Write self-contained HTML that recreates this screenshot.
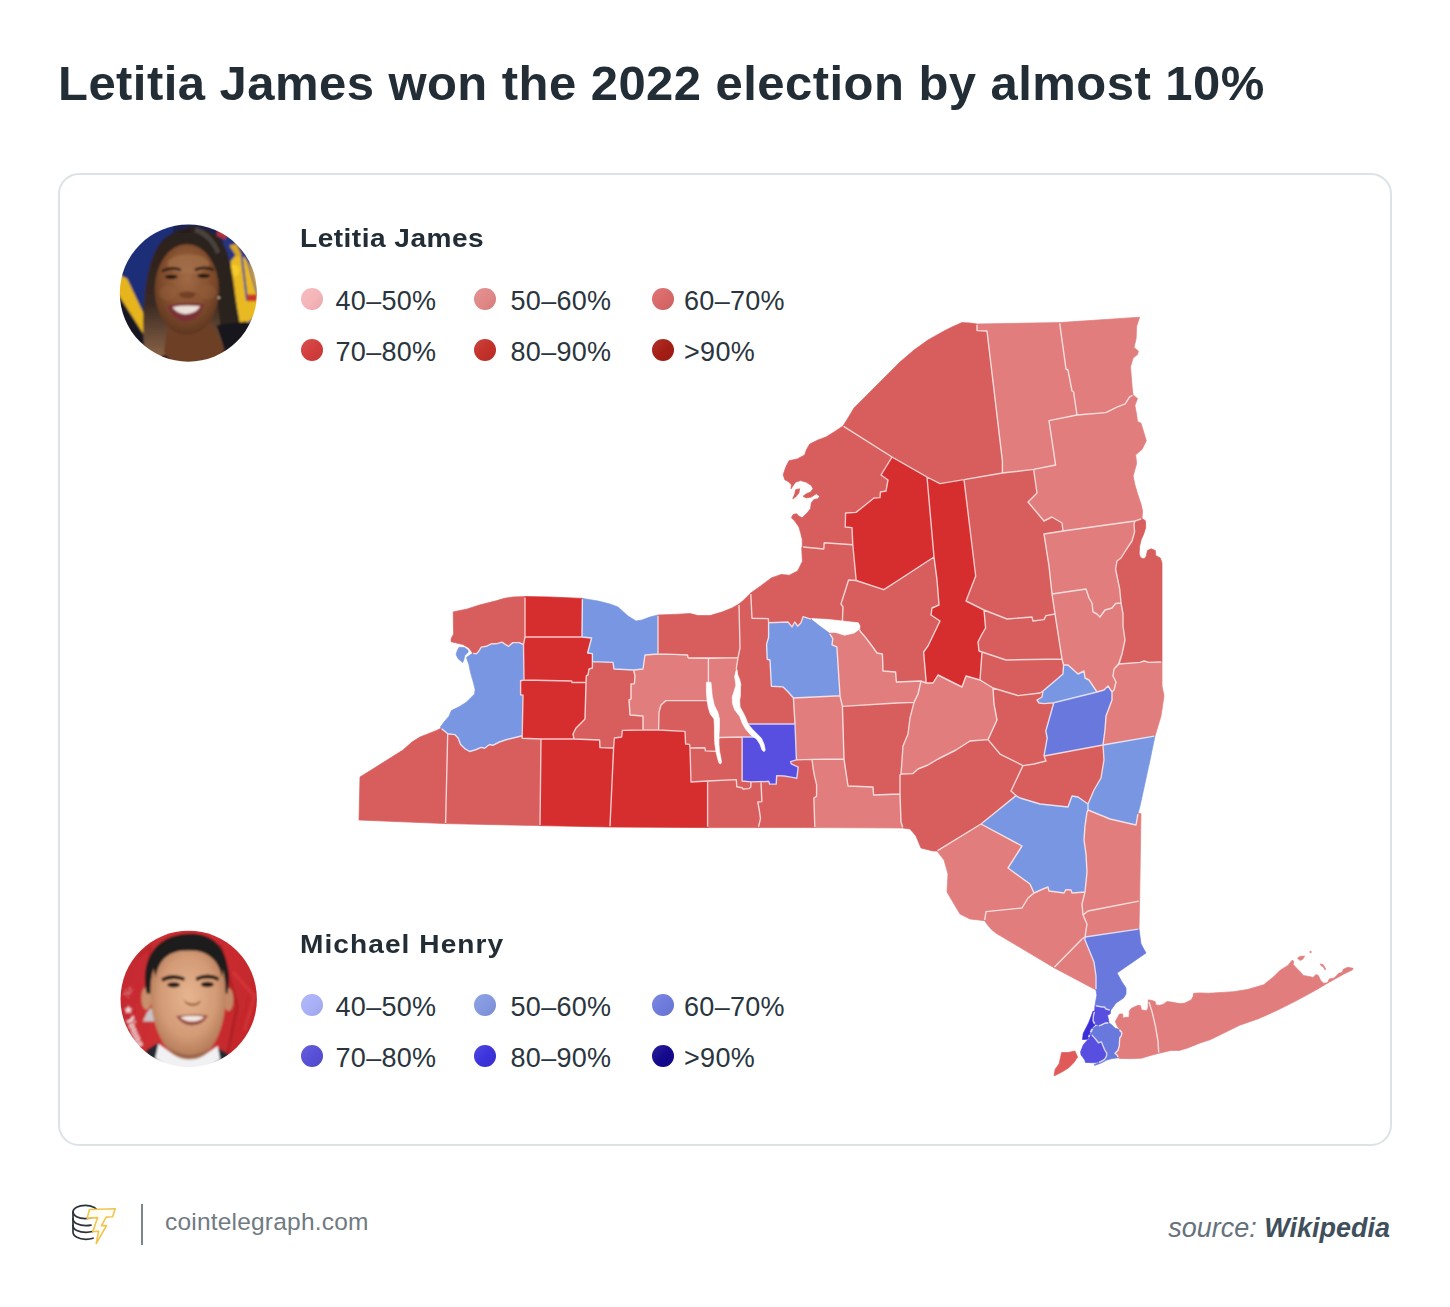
<!DOCTYPE html>
<html><head><meta charset="utf-8"><title>Letitia James won the 2022 election by almost 10%</title>
<style>
html,body{margin:0;padding:0;background:#fff;}
body{width:1450px;height:1307px;position:relative;overflow:hidden;font-family:"Liberation Sans",sans-serif;color:#222d36;}
.title{position:absolute;left:58.3px;top:51px;font-size:47.5px;font-weight:700;letter-spacing:0.45px;white-space:nowrap;line-height:66px;color:#222d36;transform-origin:0 0;transform:scaleX(1.031);}
.card{position:absolute;left:58px;top:173px;width:1330px;height:969px;border:2px solid #dce2e6;border-radius:21px;box-sizing:content-box;}
.h{position:absolute;font-size:26.5px;font-weight:700;white-space:nowrap;line-height:30px;color:#222d36;letter-spacing:0.1px}
.lg{position:absolute;font-size:27px;white-space:nowrap;line-height:30px;color:#2a353e;letter-spacing:0.3px}
.dot{position:absolute;width:22px;height:22px;border-radius:50%;}
svg.map{position:absolute;left:0;top:0;}
.c{stroke:#fff;stroke-opacity:0.74;stroke-width:1.4;stroke-linejoin:round;}
.foot{position:absolute;left:165px;top:1207px;font-size:24.5px;line-height:30px;color:#707a82;letter-spacing:0.2px;white-space:nowrap}
.sep{position:absolute;left:141px;top:1204px;width:2px;height:41px;background:#7b858c;}
.src{position:absolute;right:60px;top:1212px;font-size:27px;line-height:32px;font-style:italic;color:#65727c;white-space:nowrap}
.src b{font-weight:700;color:#3f4f5c}
</style></head><body>
<div class="title">Letitia James won the 2022 election by almost 10%</div>
<div class="card"></div>
<svg class="map" width="1450" height="1307" viewBox="0 0 1450 1307">
<polygon fill="#d85d5d" stroke="#d85d5d" stroke-width="0.7" stroke-linejoin="round" points="359.0,820.0 360.0,777.0 376.0,767.0 403.0,750.0 412.0,742.0 420.0,737.0 428.3,733.7 436.6,730.4 441.1,728.3 444.8,731.2 447.7,733.7 445.6,823.6"/>
<polygon fill="#d85d5d" stroke="#d85d5d" stroke-width="0.7" stroke-linejoin="round" points="447.7,733.7 454.8,734.6 458.1,737.9 460.6,744.5 464.7,748.6 469.7,751.5 476.3,749.5 481.2,747.4 484.6,748.2 489.5,744.5 492.8,745.3 499.4,742.0 506.9,739.5 515.2,737.5 522.2,735.8 522.2,738.2 541.0,739.0 540.0,825.6 445.6,823.6"/>
<polygon fill="#7896e1" stroke="#7896e1" stroke-width="0.7" stroke-linejoin="round" points="441.1,728.3 440.3,727.1 444.0,722.1 449.0,716.3 451.4,710.6 459.7,706.4 466.3,702.3 474.6,694.0 475.1,689.3 473.0,681.0 470.6,672.8 468.9,664.5 466.9,659.0 466.6,657.4 468.4,656.0 472.6,653.3 476.3,653.7 478.8,651.2 481.3,647.1 486.3,646.3 491.2,643.8 496.2,643.8 502.0,642.1 504.5,643.8 508.6,646.3 512.8,642.6 519.4,642.6 523.5,644.6 524.0,680.0 520.6,680.8 520.6,694.8 523.0,695.2 522.2,735.8 515.2,737.5 506.9,739.5 499.4,742.0 492.8,745.3 489.5,744.5 484.6,748.2 481.2,747.4 476.3,749.5 469.7,751.5 464.7,748.6 460.6,744.5 458.1,737.9 454.8,734.6 447.7,733.7 444.8,731.2"/>
<polygon fill="#7896e1" stroke="#7896e1" stroke-width="0.7" stroke-linejoin="round" points="459.0,647.3 464.3,647.5 467.8,649.9 468.3,652.0 464.6,655.8 463.8,660.0 462.6,662.6 458.1,658.7 456.1,654.6 457.3,650.4"/>
<polygon fill="#d85d5d" stroke="#d85d5d" stroke-width="0.7" stroke-linejoin="round" points="453.2,611.9 467.2,609.0 479.7,604.9 496.2,600.8 504.5,598.3 512.8,597.0 525.0,596.6 525.0,637.0 523.5,644.6 519.4,642.6 512.8,642.6 508.6,646.3 504.5,643.8 502.0,642.1 496.2,643.8 491.2,643.8 486.3,646.3 481.3,647.1 478.8,651.2 476.3,653.7 472.6,653.3 471.4,651.2 468.9,647.9 463.1,644.6 451.1,641.7 451.1,638.8 453.6,633.9"/>
<polygon fill="#d62e2f" stroke="#d62e2f" stroke-width="0.7" stroke-linejoin="round" points="525.0,596.6 550.0,597.0 582.4,598.4 582.0,637.0 525.0,637.0"/>
<polygon fill="#d62e2f" stroke="#d62e2f" stroke-width="0.7" stroke-linejoin="round" points="525.0,637.0 582.0,637.0 591.6,638.0 587.6,653.0 592.4,653.6 592.4,668.0 589.0,669.0 588.0,675.0 586.4,675.6 586.0,682.5 572.0,682.5 571.6,681.0 524.0,680.0 523.5,644.6"/>
<polygon fill="#d62e2f" stroke="#d62e2f" stroke-width="0.7" stroke-linejoin="round" points="520.6,680.8 524.0,680.0 571.6,681.0 572.0,682.5 586.0,682.5 585.0,719.0 579.0,725.0 576.0,728.0 573.0,734.0 574.0,739.0 541.0,739.0 522.2,738.2 522.2,735.8 523.0,695.2 520.6,694.8"/>
<polygon fill="#d62e2f" stroke="#d62e2f" stroke-width="0.7" stroke-linejoin="round" points="541.0,739.0 574.0,739.0 599.6,740.0 600.0,747.6 613.6,748.0 610.0,827.0 540.0,825.6"/>
<polygon fill="#d85d5d" stroke="#d85d5d" stroke-width="0.7" stroke-linejoin="round" points="592.4,661.6 613.0,662.4 614.0,669.0 633.6,670.0 635.0,676.0 634.4,683.6 631.0,684.0 631.0,699.0 629.0,700.0 630.0,715.0 643.0,716.0 643.0,730.0 622.4,730.4 621.6,737.0 614.4,738.0 613.6,748.0 600.0,747.6 599.6,740.0 574.0,739.0 573.0,734.0 576.0,728.0 579.0,725.0 585.0,719.0 586.0,682.5 586.4,675.6 588.0,675.0 589.0,669.0 592.4,668.0"/>
<polygon fill="#7896e1" stroke="#7896e1" stroke-width="0.7" stroke-linejoin="round" points="582.4,598.4 598.0,601.0 610.0,604.0 618.0,607.0 628.0,616.0 636.0,621.0 642.0,620.0 650.0,617.0 658.0,615.0 658.0,654.0 645.0,655.0 643.0,669.0 633.6,670.0 614.0,669.0 613.0,662.4 592.4,661.6 592.4,653.6 587.6,653.0 591.6,638.0 582.0,637.0"/>
<polygon fill="#d85d5d" stroke="#d85d5d" stroke-width="0.7" stroke-linejoin="round" points="658.0,615.0 674.0,614.4 690.0,613.6 698.0,615.6 710.0,615.6 722.0,612.0 732.0,608.0 739.0,604.0 740.0,648.0 738.0,657.6 688.0,658.0 687.6,655.0 674.0,654.4 658.0,654.0"/>
<polygon fill="#e27d7d" stroke="#e27d7d" stroke-width="0.7" stroke-linejoin="round" points="645.0,655.0 658.0,654.0 674.0,654.4 687.6,655.0 688.0,658.0 708.4,658.4 708.4,682.0 707.0,692.0 708.0,701.0 706.0,700.6 666.0,700.6 661.0,705.0 659.0,712.0 658.6,730.0 643.0,730.0 643.0,716.0 630.0,715.0 629.0,700.0 631.0,699.0 631.0,684.0 634.4,683.6 635.0,676.0 633.6,670.0 643.0,669.0"/>
<polygon fill="#d85d5d" stroke="#d85d5d" stroke-width="0.7" stroke-linejoin="round" points="666.0,700.6 706.0,700.6 708.0,701.0 711.0,704.0 715.0,716.0 716.0,728.0 716.6,742.0 718.0,751.4 705.4,750.9 704.9,747.8 690.0,748.0 689.6,744.4 685.6,744.0 685.0,731.4 658.6,730.0 659.0,712.0 661.0,705.0"/>
<polygon fill="#e27d7d" stroke="#e27d7d" stroke-width="0.7" stroke-linejoin="round" points="708.4,658.4 738.0,657.6 736.4,668.0 737.0,680.0 736.0,692.0 735.0,700.0 738.0,710.0 744.0,720.0 745.9,724.0 754.7,737.0 742.1,737.0 719.3,737.5 716.6,742.0 716.0,728.0 715.0,716.0 711.0,704.0 708.0,701.0 707.0,692.0 708.4,682.0"/>
<polygon fill="#d85d5d" stroke="#d85d5d" stroke-width="0.7" stroke-linejoin="round" points="739.0,604.0 743.8,600.0 750.7,593.1 752.0,618.2 768.3,618.6 768.6,622.8 768.6,637.2 766.6,644.1 767.2,659.3 770.0,660.0 771.4,686.2 783.1,686.9 788.0,691.7 793.4,698.0 795.0,724.0 770.8,724.0 745.9,724.0 744.0,720.0 738.0,710.0 735.0,700.0 736.0,692.0 737.0,680.0 736.4,668.0 738.0,657.6 740.0,648.0"/>
<polygon fill="#7896e1" stroke="#7896e1" stroke-width="0.7" stroke-linejoin="round" points="768.6,622.8 788.0,622.0 792.0,626.9 794.8,622.0 797.6,626.2 801.0,622.8 803.1,616.6 811.4,619.3 819.7,626.0 829.3,633.1 832.8,638.6 832.0,644.8 836.9,646.9 840.0,695.8 793.4,698.0 788.0,691.7 783.1,686.9 771.4,686.2 770.0,660.0 767.2,659.3 766.6,644.1 768.6,637.2"/>
<polygon fill="#d85d5d" stroke="#d85d5d" stroke-width="0.7" stroke-linejoin="round" points="750.7,593.1 760.3,586.2 771.4,577.9 781.0,574.5 789.3,575.2 797.6,571.0 802.4,561.4 801.7,547.6 802.4,546.9 823.8,549.0 824.2,542.8 852.8,544.8 856.2,580.5 848.6,580.0 841.0,604.0 843.0,607.0 842.4,622.0 832.0,620.0 812.8,618.6 811.4,619.3 803.1,616.6 801.0,622.8 797.6,626.2 794.8,622.0 792.0,626.9 788.0,622.0 768.6,622.8 768.3,618.6 752.0,618.2"/>
<polygon fill="#d85d5d" stroke="#d85d5d" stroke-width="0.7" stroke-linejoin="round" points="843.0,426.0 834.0,432.0 826.0,437.0 817.9,440.0 809.7,444.1 806.3,449.9 804.7,454.9 797.2,459.0 789.0,460.7 785.7,467.3 783.2,474.8 784.8,479.7 788.1,481.4 791.4,484.7 791.0,488.8 792.7,486.3 795.6,482.2 800.6,480.6 806.3,482.2 811.3,485.5 813.0,488.8 810.5,492.1 806.3,493.8 803.0,496.3 806.3,497.9 811.3,497.1 816.3,493.8 819.6,496.3 817.9,498.8 813.8,499.6 811.3,502.9 810.5,508.7 807.2,512.8 802.2,517.8 798.9,516.1 796.4,513.7 793.1,514.5 791.4,517.8 794.8,521.1 798.9,526.9 800.6,532.7 802.2,539.3 802.4,546.9 823.8,549.0 824.2,542.8 852.8,544.8 852.0,527.6 845.2,527.0 845.6,513.0 856.0,512.4 874.0,498.0 880.0,497.6 880.4,492.0 886.0,491.0 888.0,480.0 881.0,475.0 892.0,457.0"/>
<polygon fill="#d62e2f" stroke="#d62e2f" stroke-width="0.7" stroke-linejoin="round" points="892.0,457.0 927.0,477.0 934.0,557.0 898.0,580.5 883.8,589.7 856.2,580.5 852.8,544.8 852.0,527.6 845.2,527.0 845.6,513.0 856.0,512.4 874.0,498.0 880.0,497.6 880.4,492.0 886.0,491.0 888.0,480.0 881.0,475.0"/>
<polygon fill="#d85d5d" stroke="#d85d5d" stroke-width="0.7" stroke-linejoin="round" points="977.0,324.0 970.0,323.0 962.0,322.6 952.0,327.0 944.0,331.0 928.0,340.0 914.0,350.0 900.0,362.0 884.0,378.0 868.0,394.0 854.0,408.0 848.0,418.0 843.0,426.0 892.0,457.0 927.0,477.0 940.0,483.6 964.0,479.6 1002.4,473.0 1002.4,461.0 987.0,331.0 977.0,330.6"/>
<polygon fill="#e27d7d" stroke="#e27d7d" stroke-width="0.7" stroke-linejoin="round" points="977.0,324.0 1059.6,322.6 1066.0,369.0 1068.0,370.0 1072.0,391.0 1073.6,392.0 1077.0,415.0 1049.0,420.6 1055.6,465.0 1033.6,469.4 1002.4,473.0 1002.4,461.0 987.0,331.0 977.0,330.6"/>
<polygon fill="#e27d7d" stroke="#e27d7d" stroke-width="0.7" stroke-linejoin="round" points="1059.6,322.6 1139.6,317.2 1136.6,326.4 1136.1,338.7 1134.0,347.5 1138.4,351.0 1137.5,354.5 1133.1,358.1 1130.5,366.9 1131.4,377.4 1132.2,388.0 1133.1,395.0 1129.6,396.8 1125.2,403.8 1116.4,407.3 1105.8,412.6 1077.0,415.0 1073.6,392.0 1072.0,391.0 1068.0,370.0 1066.0,369.0"/>
<polygon fill="#e27d7d" stroke="#e27d7d" stroke-width="0.7" stroke-linejoin="round" points="1049.0,420.6 1077.0,415.0 1105.8,412.6 1116.4,407.3 1125.2,403.8 1129.6,396.8 1133.1,395.0 1137.5,398.5 1134.9,405.6 1136.6,414.4 1137.5,421.4 1141.0,423.2 1143.7,432.0 1146.3,440.8 1141.9,449.6 1135.7,454.8 1136.6,463.6 1133.1,476.0 1134.9,484.8 1137.5,493.6 1141.0,504.1 1142.6,511.0 1142.0,518.6 1135.0,521.0 1063.0,531.0 1062.0,523.0 1052.0,517.0 1044.0,521.0 1028.0,502.0 1037.0,493.0 1033.6,469.4 1055.6,465.0"/>
<polygon fill="#d85d5d" stroke="#d85d5d" stroke-width="0.7" stroke-linejoin="round" points="964.0,479.6 1002.4,473.0 1033.6,469.4 1037.0,493.0 1028.0,502.0 1044.0,521.0 1052.0,517.0 1062.0,523.0 1063.0,531.0 1044.0,534.0 1049.0,566.0 1052.0,594.0 1055.0,614.0 1046.0,615.6 1044.0,619.6 1033.0,621.0 1032.0,617.0 1007.0,619.0 984.0,610.0 966.0,601.0 975.7,576.0"/>
<polygon fill="#d62e2f" stroke="#d62e2f" stroke-width="0.7" stroke-linejoin="round" points="927.0,477.0 940.0,483.6 964.0,479.6 975.7,576.0 966.0,601.0 984.0,610.0 985.6,628.0 982.0,634.0 978.0,642.0 979.0,651.0 982.0,652.0 980.0,680.0 966.0,676.0 962.0,687.0 938.0,675.0 933.0,683.0 926.0,683.0 926.0,680.0 923.6,652.0 928.0,646.0 940.0,621.0 931.0,615.0 932.0,608.0 939.0,605.0 937.0,580.0 934.0,557.0"/>
<polygon fill="#d85d5d" stroke="#d85d5d" stroke-width="0.7" stroke-linejoin="round" points="848.6,580.0 856.2,580.5 883.8,589.7 898.0,580.5 934.0,557.0 937.0,580.0 939.0,605.0 932.0,608.0 931.0,615.0 940.0,621.0 928.0,646.0 923.6,652.0 926.0,680.0 926.0,683.0 921.0,681.0 896.4,682.0 895.6,672.0 883.0,671.0 882.4,654.0 877.0,653.0 872.0,646.0 866.0,638.0 860.0,631.0 860.0,626.0 858.3,622.8 842.4,622.0 843.0,607.0 841.0,604.0"/>
<polygon fill="#e27d7d" stroke="#e27d7d" stroke-width="0.7" stroke-linejoin="round" points="829.3,633.1 837.6,633.1 844.5,635.2 854.1,633.1 859.7,629.0 860.0,631.0 866.0,638.0 872.0,646.0 877.0,653.0 882.4,654.0 883.0,671.0 895.6,672.0 896.4,682.0 921.0,681.0 918.0,694.0 914.0,702.4 897.0,703.0 842.4,706.4 840.0,695.8 836.9,646.9 832.0,644.8 832.8,638.6"/>
<polygon fill="#d85d5d" stroke="#d85d5d" stroke-width="0.7" stroke-linejoin="round" points="984.0,610.0 1007.0,619.0 1032.0,617.0 1033.0,621.0 1044.0,619.6 1046.0,615.6 1055.0,614.0 1062.0,659.0 1006.0,660.0 982.0,652.0 979.0,651.0 978.0,642.0 982.0,634.0 985.6,628.0"/>
<polygon fill="#d85d5d" stroke="#d85d5d" stroke-width="0.7" stroke-linejoin="round" points="982.0,652.0 1006.0,660.0 1062.0,659.0 1063.6,665.0 1063.0,674.0 1056.0,680.0 1043.0,691.0 1040.0,693.0 1018.0,695.6 993.0,688.0 980.0,680.0"/>
<polygon fill="#7896e1" stroke="#7896e1" stroke-width="0.7" stroke-linejoin="round" points="1063.6,665.0 1068.0,665.0 1078.0,674.0 1084.0,671.0 1085.0,678.0 1089.0,680.0 1097.0,692.0 1053.8,702.7 1044.0,703.6 1039.0,703.0 1037.0,700.0 1042.0,697.0 1043.0,691.0 1056.0,680.0 1063.0,674.0"/>
<polygon fill="#d85d5d" stroke="#d85d5d" stroke-width="0.7" stroke-linejoin="round" points="993.0,688.0 1018.0,695.6 1040.0,693.0 1043.0,691.0 1042.0,697.0 1037.0,700.0 1039.0,703.0 1044.0,703.6 1053.8,702.7 1045.8,731.0 1047.2,738.0 1044.0,756.0 1046.0,761.0 1034.0,764.0 1023.0,765.6 1000.0,754.0 988.0,739.6 997.0,720.0 994.0,704.0"/>
<polygon fill="#6878dc" stroke="#6878dc" stroke-width="0.7" stroke-linejoin="round" points="1053.8,702.7 1097.0,692.0 1104.0,690.0 1108.0,686.0 1112.0,692.0 1112.0,700.0 1106.0,716.0 1105.0,730.0 1103.0,745.0 1044.0,756.0 1047.2,738.0 1045.8,731.0"/>
<polygon fill="#e27d7d" stroke="#e27d7d" stroke-width="0.7" stroke-linejoin="round" points="1052.0,594.0 1086.0,589.0 1089.0,598.0 1092.0,603.0 1093.0,612.0 1097.0,614.0 1100.0,617.0 1105.0,610.0 1112.0,608.0 1115.6,603.5 1121.0,603.0 1123.0,614.0 1123.0,626.0 1125.0,640.0 1122.0,654.0 1119.0,664.0 1114.0,669.0 1113.0,676.0 1116.0,682.0 1114.0,690.0 1112.0,692.0 1108.0,686.0 1104.0,690.0 1097.0,692.0 1089.0,680.0 1085.0,678.0 1084.0,671.0 1078.0,674.0 1068.0,665.0 1063.6,665.0 1062.0,659.0 1055.0,614.0"/>
<polygon fill="#e27d7d" stroke="#e27d7d" stroke-width="0.7" stroke-linejoin="round" points="1044.0,534.0 1063.0,531.0 1135.0,521.0 1134.0,524.0 1134.6,532.0 1132.0,541.0 1126.0,550.0 1121.0,558.0 1117.0,561.0 1115.6,569.0 1117.0,576.0 1119.7,589.0 1121.0,603.0 1115.6,603.5 1112.0,608.0 1105.0,610.0 1100.0,617.0 1097.0,614.0 1093.0,612.0 1092.0,603.0 1089.0,598.0 1086.0,589.0 1052.0,594.0 1049.0,566.0"/>
<polygon fill="#d85d5d" stroke="#d85d5d" stroke-width="0.7" stroke-linejoin="round" points="1135.0,521.0 1142.0,518.6 1145.4,520.7 1145.8,527.3 1143.7,534.0 1141.2,539.7 1139.6,546.3 1139.2,553.8 1140.3,557.2 1142.9,558.8 1145.2,558.2 1146.4,555.5 1147.4,550.5 1151.2,548.8 1155.3,550.5 1155.7,555.5 1160.3,558.0 1162.0,563.0 1162.0,662.0 1149.0,662.4 1144.0,661.0 1140.0,662.4 1118.5,664.0 1122.0,654.0 1125.0,640.0 1123.0,626.0 1123.0,614.0 1121.0,603.0 1119.7,589.0 1117.0,576.0 1115.6,569.0 1117.0,561.0 1121.0,558.0 1126.0,550.0 1132.0,541.0 1134.6,532.0 1134.0,524.0"/>
<polygon fill="#e27d7d" stroke="#e27d7d" stroke-width="0.7" stroke-linejoin="round" points="1118.5,664.0 1140.0,662.4 1144.0,661.0 1149.0,662.4 1162.0,662.0 1162.0,686.0 1164.0,696.0 1161.0,716.0 1155.0,736.0 1103.0,745.0 1105.0,730.0 1106.0,716.0 1112.0,700.0 1112.0,692.0 1114.0,690.0 1116.0,682.0 1113.0,676.0 1114.0,669.0"/>
<polygon fill="#7896e1" stroke="#7896e1" stroke-width="0.7" stroke-linejoin="round" points="1103.0,745.0 1155.0,736.0 1150.0,760.0 1140.0,806.0 1138.0,813.6 1136.0,825.0 1110.0,819.0 1088.0,810.0 1088.0,804.0 1094.0,790.0 1101.0,778.0 1104.0,760.0"/>
<polygon fill="#d85d5d" stroke="#d85d5d" stroke-width="0.7" stroke-linejoin="round" points="1044.0,756.0 1103.0,745.0 1104.0,760.0 1101.0,778.0 1094.0,790.0 1088.0,804.0 1078.0,797.0 1072.0,796.0 1068.0,807.0 1040.0,804.0 1020.0,798.0 1016.0,795.6 1011.0,791.0 1023.0,765.6 1034.0,764.0 1046.0,761.0"/>
<polygon fill="#7896e1" stroke="#7896e1" stroke-width="0.7" stroke-linejoin="round" points="981.0,824.0 1016.0,795.6 1020.0,798.0 1040.0,804.0 1068.0,807.0 1072.0,796.0 1078.0,797.0 1088.0,804.0 1088.0,810.0 1087.0,812.0 1085.0,826.0 1084.0,840.0 1086.0,854.0 1087.0,872.0 1085.0,892.0 1072.0,893.0 1071.0,890.0 1066.0,889.6 1064.0,893.0 1049.0,891.0 1048.0,887.0 1043.0,889.0 1034.0,893.0 1030.0,884.0 1008.0,868.0 1022.0,846.0"/>
<polygon fill="#d85d5d" stroke="#d85d5d" stroke-width="0.7" stroke-linejoin="round" points="901.0,774.0 913.0,773.6 918.0,769.0 928.0,765.0 938.0,759.0 948.0,754.0 956.0,750.0 970.0,741.0 988.0,739.6 1000.0,754.0 1023.0,765.6 1011.0,791.0 1016.0,795.6 981.0,824.0 937.0,851.0 933.0,851.0 921.0,848.0 916.0,836.0 910.0,829.0 903.0,828.0 901.0,822.0 900.0,794.0 900.0,775.0"/>
<polygon fill="#e27d7d" stroke="#e27d7d" stroke-width="0.7" stroke-linejoin="round" points="937.0,851.0 981.0,824.0 1022.0,846.0 1008.0,868.0 1030.0,884.0 1034.0,893.0 1028.0,898.0 1022.0,908.0 986.0,911.6 984.6,920.7 970.0,919.0 960.0,914.0 954.0,904.0 947.0,892.0 948.0,874.0 944.0,860.0"/>
<polygon fill="#e27d7d" stroke="#e27d7d" stroke-width="0.7" stroke-linejoin="round" points="986.0,911.6 1022.0,908.0 1028.0,898.0 1034.0,893.0 1043.0,889.0 1048.0,887.0 1049.0,891.0 1064.0,893.0 1066.0,889.6 1071.0,890.0 1072.0,893.0 1085.0,892.0 1082.0,904.0 1083.0,915.0 1087.0,924.0 1085.0,937.0 1082.0,939.0 1054.0,967.7 995.8,933.1 991.5,929.5 988.0,925.5 984.6,920.7"/>
<polygon fill="#e27d7d" stroke="#e27d7d" stroke-width="0.7" stroke-linejoin="round" points="1054.0,967.7 1082.0,939.0 1085.0,937.0 1085.0,940.0 1094.0,962.0 1096.0,976.0 1096.0,990.0"/>
<polygon fill="#e27d7d" stroke="#e27d7d" stroke-width="0.7" stroke-linejoin="round" points="1088.0,810.0 1110.0,819.0 1136.0,825.0 1138.0,813.6 1141.0,813.6 1139.6,901.0 1088.0,911.0 1083.0,915.0 1082.0,904.0 1085.0,892.0 1087.0,872.0 1086.0,854.0 1084.0,840.0 1085.0,826.0 1087.0,812.0"/>
<polygon fill="#e27d7d" stroke="#e27d7d" stroke-width="0.7" stroke-linejoin="round" points="1083.0,915.0 1088.0,911.0 1139.6,901.0 1139.0,929.0 1085.0,937.0 1087.0,924.0"/>
<polygon fill="#6878dc" stroke="#6878dc" stroke-width="0.7" stroke-linejoin="round" points="1085.0,937.0 1139.0,929.0 1141.0,944.0 1146.0,953.0 1117.0,973.0 1122.0,982.0 1126.0,988.0 1126.0,994.0 1123.5,998.0 1116.0,1003.0 1110.6,1010.4 1106.0,1009.0 1104.5,1007.0 1102.2,1007.0 1095.0,1005.5 1096.9,995.0 1096.0,990.0 1096.0,976.0 1094.0,962.0 1085.0,940.0"/>
<polygon fill="#e27d7d" stroke="#e27d7d" stroke-width="0.7" stroke-linejoin="round" points="921.0,681.0 926.0,683.0 933.0,683.0 938.0,675.0 962.0,687.0 966.0,676.0 980.0,680.0 993.0,688.0 994.0,704.0 997.0,720.0 988.0,739.6 970.0,741.0 956.0,750.0 948.0,754.0 938.0,759.0 928.0,765.0 918.0,769.0 913.0,773.6 901.0,774.0 902.0,760.0 903.0,746.0 908.0,734.0 910.0,718.0 914.0,702.4 918.0,694.0"/>
<polygon fill="#d85d5d" stroke="#d85d5d" stroke-width="0.7" stroke-linejoin="round" points="842.4,706.4 897.0,703.0 914.0,702.4 910.0,718.0 908.0,734.0 903.0,746.0 902.0,760.0 901.0,774.0 900.0,775.0 900.0,794.0 873.6,795.0 873.0,787.0 848.0,786.0 844.0,759.0"/>
<polygon fill="#e27d7d" stroke="#e27d7d" stroke-width="0.7" stroke-linejoin="round" points="793.4,698.0 840.0,695.8 842.4,706.4 844.0,759.0 812.0,759.4 796.4,759.9 795.0,724.0"/>
<polygon fill="#e27d7d" stroke="#e27d7d" stroke-width="0.7" stroke-linejoin="round" points="812.0,759.4 844.0,759.0 848.0,786.0 873.0,787.0 873.6,795.0 900.0,794.0 901.0,822.0 903.0,828.0 814.8,827.6 813.9,798.0 816.6,796.2 816.6,784.6 814.8,777.4 813.4,770.2"/>
<polygon fill="#d85d5d" stroke="#d85d5d" stroke-width="0.7" stroke-linejoin="round" points="761.0,781.9 769.0,781.4 769.5,784.1 776.2,784.1 776.7,775.6 784.3,776.0 792.3,777.4 796.8,778.3 797.7,771.1 798.2,767.1 795.0,765.7 791.4,763.9 790.5,761.7 796.4,759.9 812.0,759.4 813.4,770.2 814.8,777.4 816.6,784.6 816.6,796.2 813.9,798.0 814.8,827.6 758.3,827.6 760.5,818.6 759.2,809.7 757.8,802.0 761.9,801.6"/>
<polygon fill="#584fe0" stroke="#584fe0" stroke-width="0.7" stroke-linejoin="round" points="742.1,737.0 754.7,737.0 745.9,724.0 770.8,724.0 795.0,724.0 796.4,759.9 790.5,761.7 791.4,763.9 795.0,765.7 798.2,767.1 797.7,771.1 796.8,778.3 792.3,777.4 784.3,776.0 776.7,775.6 776.2,784.1 769.5,784.1 769.0,781.4 751.1,781.9 742.1,781.0"/>
<polygon fill="#d85d5d" stroke="#d85d5d" stroke-width="0.7" stroke-linejoin="round" points="690.0,748.0 704.9,747.8 705.4,750.9 718.0,751.4 716.6,742.0 719.3,737.5 742.1,737.0 742.1,781.0 751.1,781.9 750.7,787.2 748.9,788.6 743.0,789.0 742.1,787.7 736.8,786.8 736.3,779.6 707.6,781.0 691.0,782.0"/>
<polygon fill="#d85d5d" stroke="#d85d5d" stroke-width="0.7" stroke-linejoin="round" points="707.6,781.0 736.3,779.6 736.8,786.8 742.1,787.7 743.0,789.0 748.9,788.6 750.7,787.2 751.1,781.9 761.0,781.9 761.9,801.6 757.8,802.0 759.2,809.7 760.5,818.6 758.3,827.6 707.6,827.6"/>
<polygon fill="#d62e2f" stroke="#d62e2f" stroke-width="0.7" stroke-linejoin="round" points="614.4,738.0 621.6,737.0 622.4,730.4 643.0,730.0 658.6,730.0 685.0,731.4 685.6,744.0 689.6,744.4 690.0,748.0 691.0,782.0 707.6,781.0 707.6,827.6 610.0,827.0 613.6,748.0"/>
<polygon fill="#df5a58" stroke="#df5a58" stroke-width="0.7" stroke-linejoin="round" points="1054.0,1075.7 1055.2,1069.2 1059.0,1064.0 1060.5,1057.8 1061.6,1052.5 1068.0,1052.5 1074.9,1051.0 1077.6,1057.0 1074.0,1062.4 1068.8,1067.7 1062.8,1071.5 1056.0,1075.0"/>
<polygon fill="#3a2fd6" stroke="#3a2fd6" stroke-width="0.7" stroke-linejoin="round" points="1094.6,1011.2 1093.0,1011.2 1091.6,1015.3 1088.6,1023.0 1085.5,1029.0 1083.2,1033.6 1082.5,1039.6 1087.8,1039.2 1089.7,1033.6 1093.0,1026.7 1095.0,1025.2 1093.0,1020.7 1093.5,1015.3"/>
<polygon fill="#584fe0" stroke="#584fe0" stroke-width="0.7" stroke-linejoin="round" points="1095.0,1005.5 1102.2,1007.0 1104.5,1007.0 1106.0,1009.0 1110.6,1010.4 1110.2,1013.8 1107.5,1015.3 1108.3,1019.0 1109.0,1022.5 1104.5,1023.3 1100.0,1025.6 1095.4,1024.4 1093.0,1020.7 1093.5,1015.3 1094.6,1011.2"/>
<polygon fill="#6878dc" stroke="#6878dc" stroke-width="0.7" stroke-linejoin="round" points="1100.0,1025.6 1104.5,1023.3 1109.0,1023.0 1111.3,1024.4 1115.0,1028.2 1118.5,1029.2 1122.0,1032.8 1121.2,1035.8 1119.7,1038.0 1119.3,1045.7 1118.0,1050.2 1115.0,1053.3 1117.4,1055.5 1118.2,1057.8 1112.0,1058.6 1106.8,1060.0 1100.7,1063.2 1094.6,1065.4 1094.3,1064.7 1100.7,1061.6 1104.5,1059.4 1106.4,1056.3 1106.8,1053.3 1104.5,1049.5 1103.0,1045.7 1101.5,1041.9 1098.4,1042.7 1095.4,1038.9 1091.6,1034.7 1090.5,1032.8 1093.0,1028.2 1096.0,1026.0"/>
<polygon fill="#584fe0" stroke="#584fe0" stroke-width="0.7" stroke-linejoin="round" points="1089.7,1034.3 1091.6,1034.7 1095.4,1038.9 1098.4,1042.7 1101.5,1041.9 1103.0,1045.7 1104.5,1049.5 1106.8,1053.3 1106.4,1056.3 1104.5,1059.4 1100.7,1061.6 1094.6,1062.8 1085.5,1062.4 1084.8,1060.1 1081.0,1054.8 1080.6,1051.8 1083.2,1045.0 1087.0,1040.4 1088.6,1039.6"/>
<polygon fill="#e27d7d" stroke="#e27d7d" stroke-width="0.7" stroke-linejoin="round" points="1122.0,1032.8 1117.4,1026.4 1115.3,1021.4 1119.5,1014.0 1122.8,1014.0 1122.8,1018.1 1125.7,1017.3 1129.0,1017.3 1129.4,1010.7 1131.5,1008.2 1138.1,1005.3 1140.6,1005.7 1141.4,1009.8 1146.4,1010.7 1148.0,1008.2 1148.4,999.9 1152.2,1012.3 1155.5,1026.4 1158.0,1041.3 1158.8,1053.3 1151.3,1055.3 1141.4,1058.2 1129.8,1058.7 1119.7,1058.4 1118.2,1057.8 1117.4,1055.5 1115.0,1053.3 1118.0,1050.2 1119.3,1045.7 1119.7,1038.0 1121.2,1035.8"/>
<polygon fill="#e27d7d" stroke="#e27d7d" stroke-width="0.7" stroke-linejoin="round" points="1148.4,999.9 1151.3,1000.3 1155.1,1001.6 1155.9,1004.9 1159.6,1005.3 1162.9,1004.4 1167.1,1001.6 1171.2,1002.0 1179.5,1003.6 1184.4,1003.2 1191.1,999.9 1193.1,996.6 1193.6,993.3 1200.2,992.9 1208.4,993.3 1233.4,991.7 1247.4,989.5 1263.8,984.7 1273.4,977.0 1280.2,970.2 1288.0,965.4 1292.3,960.0 1293.7,961.5 1293.2,964.4 1297.6,969.2 1300.5,972.1 1303.4,975.5 1309.2,976.5 1313.0,977.4 1316.0,974.6 1318.3,975.5 1320.8,980.8 1323.7,983.2 1327.5,982.8 1329.4,978.9 1334.3,977.9 1339.1,973.1 1342.0,972.6 1343.4,969.2 1347.8,967.3 1353.1,968.3 1352.6,969.7 1343.9,974.0 1326.5,983.7 1316.9,989.5 1297.6,1000.1 1278.3,1009.8 1259.0,1018.5 1239.7,1025.2 1210.7,1039.5 1200.2,1042.9 1187.8,1047.9 1179.5,1050.4 1171.2,1050.4 1158.8,1053.3 1158.0,1041.3 1155.5,1026.4 1152.2,1012.3"/>
<polygon fill="#e27d7d" stroke="#e27d7d" stroke-width="0.7" stroke-linejoin="round" points="1297.5,958.0 1300.0,956.5 1304.5,956.0 1303.0,959.0 1300.0,960.5"/>
<polygon fill="#e27d7d" stroke="#e27d7d" stroke-width="0.7" stroke-linejoin="round" points="1320.0,964.0 1323.0,964.5 1325.5,968.5 1325.0,970.0 1323.5,967.0 1321.0,965.5"/>
<polygon fill="#d85d5d" stroke="#d85d5d" stroke-width="0.7" stroke-linejoin="round" points="795.6,489.7 799.7,488.8 798.9,493.0 795.6,497.1 792.7,498.8 794.8,493.8"/>
<polygon fill="#e27d7d" stroke="#e27d7d" stroke-width="0.7" stroke-linejoin="round" points="1310.0,951.2 1311.3,951.6 1311.0,952.8 1309.8,952.4"/>
<path class="c" fill="none" d="M441.6 728.7 L444.8 731.2 L447.7 733.7M447.7 733.7 L445.6 822.9M447.7 733.7 L454.8 734.6 L458.1 737.9 L460.6 744.5 L464.7 748.6 L469.7 751.5 L476.3 749.5 L481.2 747.4 L484.6 748.2 L489.5 744.5 L492.8 745.3 L499.4 742.0 L506.9 739.5 L515.2 737.5 L522.2 735.8M473.2 653.4 L476.3 653.7 L478.8 651.2 L481.3 647.1 L486.3 646.3 L491.2 643.8 L496.2 643.8 L502.0 642.1 L504.5 643.8 L508.6 646.3 L512.8 642.6 L519.4 642.6 L523.5 644.6M522.2 735.8 L522.2 738.2 L541.0 739.0M524.0 680.0 L520.6 680.8 L520.6 694.8 L523.0 695.2 L522.2 735.8M523.5 644.6 L524.0 680.0M525.0 637.0 L523.5 644.6M586.0 682.5 L572.0 682.5 L571.6 681.0 L524.0 680.0M525.0 597.4 L525.0 637.0M582.0 637.0 L525.0 637.0M541.0 739.0 L540.0 824.9M574.0 739.0 L541.0 739.0M574.0 739.0 L599.6 740.0 L600.0 747.6 L613.6 748.0M586.0 682.5 L585.0 719.0 L579.0 725.0 L576.0 728.0 L573.0 734.0 L574.0 739.0M582.0 637.0 L591.6 638.0 L587.6 653.0 L592.4 653.6 L592.4 661.6M582.4 599.2 L582.0 637.0M592.4 661.6 L592.4 668.0 L589.0 669.0 L588.0 675.0 L586.4 675.6 L586.0 682.5M592.4 661.6 L613.0 662.4 L614.0 669.0 L633.6 670.0M613.6 748.0 L610.0 826.3M643.0 730.0 L622.4 730.4 L621.6 737.0 L614.4 738.0 L613.6 748.0M633.6 670.0 L635.0 676.0 L634.4 683.6 L631.0 684.0 L631.0 699.0 L629.0 700.0 L630.0 715.0 L643.0 716.0 L643.0 730.0M658.0 654.0 L645.0 655.0 L643.0 669.0 L633.6 670.0M658.6 730.0 L643.0 730.0M658.0 615.8 L658.0 654.0M688.0 658.0 L687.6 655.0 L674.0 654.4 L658.0 654.0M690.0 748.0 L689.6 744.4 L685.6 744.0 L685.0 731.4 L658.6 730.0M708.0 701.0 L706.0 700.6 L666.0 700.6 L661.0 705.0 L659.0 712.0 L658.6 730.0M688.0 658.0 L708.4 658.4M738.0 657.6 L688.0 658.0M707.6 781.0 L691.0 782.0 L690.0 748.0M716.6 742.0 L718.0 751.4 L705.4 750.9 L704.9 747.8 L690.0 748.0M707.6 826.8 L707.6 781.0M751.1 781.9 L750.7 787.2 L748.9 788.6 L743.0 789.0 L742.1 787.7 L736.8 786.8 L736.3 779.6 L707.6 781.0M708.0 701.0 L711.0 704.0 L715.0 716.0 L716.0 728.0 L716.6 742.0M708.4 658.4 L708.4 682.0 L707.0 692.0 L708.0 701.0M708.4 658.4 L738.0 657.6M742.1 737.0 L719.3 737.5 L716.6 742.0M738.0 657.6 L736.4 668.0 L737.0 680.0 L736.0 692.0 L735.0 700.0 L738.0 710.0 L744.0 720.0 L745.9 724.0M739.0 604.9 L740.0 648.0 L738.0 657.6M745.9 724.0 L754.7 737.0 L742.1 737.0M751.1 781.9 L742.1 781.0 L742.1 737.0M795.0 724.0 L770.8 724.0 L745.9 724.0M750.8 594.1 L752.0 618.2 L768.3 618.6 L768.6 622.8M751.1 781.9 L761.0 781.9M769.0 781.4 L751.1 781.9M758.5 826.9 L760.5 818.6 L759.2 809.7 L757.8 802.0 L761.9 801.6 L761.0 781.9M761.0 781.9 L769.0 781.4M768.6 622.8 L768.6 637.2 L766.6 644.1 L767.2 659.3 L770.0 660.0 L771.4 686.2 L783.1 686.9 L788.0 691.7 L793.4 698.0M768.6 622.8 L788.0 622.0 L792.0 626.9 L794.8 622.0 L797.6 626.2 L801.0 622.8 L803.1 616.6 L811.0 619.2M769.0 781.4 L769.5 784.1 L776.2 784.1 L776.7 775.6 L784.3 776.0 L792.3 777.4 L796.8 778.3 L797.7 771.1 L798.2 767.1 L795.0 765.7 L791.4 763.9 L790.5 761.7 L796.4 759.9M793.4 698.0 L795.0 724.0M840.0 695.8 L793.4 698.0M796.4 759.9 L795.0 724.0M812.0 759.4 L796.4 759.9M803.1 547.0 L823.8 549.0 L824.2 542.8 L852.8 544.8M814.8 826.9 L813.9 798.0 L816.6 796.2 L816.6 784.6 L814.8 777.4 L813.4 770.2 L812.0 759.4M844.0 759.0 L812.0 759.4M829.8 633.9 L832.8 638.6 L832.0 644.8 L836.9 646.9 L840.0 695.8M842.4 706.4 L840.0 695.8M844.0 759.0 L842.4 706.4M914.0 702.4 L897.0 703.0 L842.4 706.4M856.2 580.5 L848.6 580.0 L841.0 604.0 L843.0 607.0 L842.4 621.2M892.0 457.0 L843.6 426.4M900.0 794.0 L873.6 795.0 L873.0 787.0 L848.0 786.0 L844.0 759.0M852.8 544.8 L856.2 580.5M852.8 544.8 L852.0 527.6 L845.2 527.0 L845.6 513.0 L856.0 512.4 L874.0 498.0 L880.0 497.6 L880.4 492.0 L886.0 491.0 L888.0 480.0 L881.0 475.0 L892.0 457.0M934.0 557.0 L898.0 580.5 L883.8 589.7 L856.2 580.5M859.8 629.8 L860.0 631.0M860.0 631.0 L860.0 629.7M921.0 681.0 L896.4 682.0 L895.6 672.0 L883.0 671.0 L882.4 654.0 L877.0 653.0 L872.0 646.0 L866.0 638.0 L860.0 631.0M892.0 457.0 L927.0 477.0M902.7 827.2 L901.0 822.0 L900.0 794.0M900.0 794.0 L900.0 775.0 L901.0 774.0M901.0 774.0 L902.0 760.0 L903.0 746.0 L908.0 734.0 L910.0 718.0 L914.0 702.4M901.0 774.0 L913.0 773.6 L918.0 769.0 L928.0 765.0 L938.0 759.0 L948.0 754.0 L956.0 750.0 L970.0 741.0 L988.0 739.6M921.0 681.0 L918.0 694.0 L914.0 702.4M926.0 683.0 L921.0 681.0M980.0 680.0 L966.0 676.0 L962.0 687.0 L938.0 675.0 L933.0 683.0 L926.0 683.0M926.0 683.0 L926.0 680.0 L923.6 652.0 L928.0 646.0 L940.0 621.0 L931.0 615.0 L932.0 608.0 L939.0 605.0 L937.0 580.0 L934.0 557.0M927.0 477.0 L940.0 483.6 L964.0 479.6M927.0 477.0 L934.0 557.0M981.0 824.0 L937.6 850.6M984.0 610.0 L966.0 601.0 L975.7 576.0 L964.0 479.6M964.0 479.6 L1002.4 473.0M1002.4 473.0 L1002.4 461.0 L987.0 331.0 L977.0 330.6 L977.0 324.7M993.0 688.0 L980.0 680.0M982.0 652.0 L980.0 680.0M1034.0 893.0 L1030.0 884.0 L1008.0 868.0 L1022.0 846.0 L981.0 824.0M981.0 824.0 L1016.0 795.6M1062.0 659.0 L1006.0 660.0 L982.0 652.0M984.0 610.0 L985.6 628.0 L982.0 634.0 L978.0 642.0 L979.0 651.0 L982.0 652.0M1055.0 614.0 L1046.0 615.6 L1044.0 619.6 L1033.0 621.0 L1032.0 617.0 L1007.0 619.0 L984.0 610.0M1034.0 893.0 L1028.0 898.0 L1022.0 908.0 L986.0 911.6 L984.7 920.0M1023.0 765.6 L1000.0 754.0 L988.0 739.6M988.0 739.6 L997.0 720.0 L994.0 704.0 L993.0 688.0M1043.0 691.0 L1040.0 693.0 L1018.0 695.6 L993.0 688.0M1033.6 469.4 L1002.4 473.0M1088.0 804.0 L1078.0 797.0 L1072.0 796.0 L1068.0 807.0 L1040.0 804.0 L1020.0 798.0 L1016.0 795.6M1016.0 795.6 L1011.0 791.0 L1023.0 765.6M1044.0 756.0 L1046.0 761.0 L1034.0 764.0 L1023.0 765.6M1063.0 531.0 L1062.0 523.0 L1052.0 517.0 L1044.0 521.0 L1028.0 502.0 L1037.0 493.0 L1033.6 469.4M1077.0 415.0 L1049.0 420.6 L1055.6 465.0 L1033.6 469.4M1085.0 892.0 L1072.0 893.0 L1071.0 890.0 L1066.0 889.6 L1064.0 893.0 L1049.0 891.0 L1048.0 887.0 L1043.0 889.0 L1034.0 893.0M1053.8 702.7 L1044.0 703.6 L1039.0 703.0 L1037.0 700.0 L1042.0 697.0 L1043.0 691.0M1063.6 665.0 L1063.0 674.0 L1056.0 680.0 L1043.0 691.0M1053.8 702.7 L1045.8 731.0 L1047.2 738.0 L1044.0 756.0M1103.0 745.0 L1044.0 756.0M1052.0 594.0 L1055.0 614.0M1063.0 531.0 L1044.0 534.0 L1049.0 566.0 L1052.0 594.0M1052.0 594.0 L1086.0 589.0 L1089.0 598.0 L1092.0 603.0 L1093.0 612.0 L1097.0 614.0 L1100.0 617.0 L1105.0 610.0 L1112.0 608.0 L1115.6 603.5 L1121.0 603.0M1097.0 692.0 L1053.8 702.7M1085.0 937.0 L1082.0 939.0 L1054.5 967.1M1055.0 614.0 L1062.0 659.0M1059.7 323.3 L1066.0 369.0 L1068.0 370.0 L1072.0 391.0 L1073.6 392.0 L1077.0 415.0M1062.0 659.0 L1063.6 665.0M1135.0 521.0 L1063.0 531.0M1063.6 665.0 L1068.0 665.0 L1078.0 674.0 L1084.0 671.0 L1085.0 678.0 L1089.0 680.0 L1097.0 692.0M1132.5 395.3 L1129.6 396.8 L1125.2 403.8 L1116.4 407.3 L1105.8 412.6 L1077.0 415.0M1083.0 915.0 L1087.0 924.0 L1085.0 937.0M1085.0 892.0 L1082.0 904.0 L1083.0 915.0M1138.8 901.1 L1088.0 911.0 L1083.0 915.0M1088.0 810.0 L1087.0 812.0 L1085.0 826.0 L1084.0 840.0 L1086.0 854.0 L1087.0 872.0 L1085.0 892.0M1085.0 937.0 L1085.0 940.0 L1094.0 962.0 L1096.0 976.0 L1096.0 989.2M1138.3 929.1 L1085.0 937.0M1088.0 810.0 L1088.0 804.0M1088.0 804.0 L1094.0 790.0 L1101.0 778.0 L1104.0 760.0 L1103.0 745.0M1137.9 814.2 L1136.0 825.0 L1110.0 819.0 L1088.0 810.0M1088.6 1036.9 L1089.3 1034.9M1089.1 1037.1 L1089.6 1035.0M1090.4 1032.1 L1092.0 1028.7M1090.8 1032.2 L1092.6 1029.0M1100.7 1061.6 L1104.5 1059.4 L1106.4 1056.3 L1106.8 1053.3 L1104.5 1049.5 L1103.0 1045.7 L1101.5 1041.9 L1098.4 1042.7 L1095.4 1038.9 L1091.8 1034.9M1094.8 1023.5 L1093.0 1020.7M1094.4 1023.8 L1093.0 1020.7M1093.0 1020.7 L1093.5 1015.3 L1094.4 1011.9M1109.9 1010.2 L1106.0 1009.0 L1104.5 1007.0 L1102.2 1007.0 L1095.7 1005.7M1097.0 692.0 L1104.0 690.0 L1108.0 686.0 L1112.0 692.0M1100.7 1061.6 L1099.1 1061.9M1099.1 1025.7 L1100.0 1025.6M1100.0 1025.6 L1099.1 1025.4M1099.2 1062.3 L1100.7 1061.6M1104.5 1023.3 L1100.0 1025.6M1112.0 692.0 L1112.0 700.0 L1106.0 716.0 L1105.0 730.0 L1103.0 745.0M1154.2 736.1 L1103.0 745.0M1108.2 1022.7 L1104.5 1023.3M1104.5 1023.3 L1108.2 1023.1M1114.0 669.0 L1113.0 676.0 L1116.0 682.0 L1114.0 690.0 L1112.0 692.0M1114.0 669.0 L1118.5 664.0M1119.0 664.0 L1119.0 664.0 L1114.0 669.0M1122.0 1032.8 L1121.2 1035.8 L1119.7 1038.0 L1119.3 1045.7 L1118.0 1050.2 L1115.0 1053.3 L1117.4 1055.5 L1117.9 1057.1M1118.5 664.0 L1122.0 654.0M1122.0 654.0 L1119.0 664.0M1161.2 662.0 L1149.0 662.4 L1144.0 661.0 L1140.0 662.4 L1119.0 664.0M1119.4 1030.2 L1122.0 1032.8M1122.0 1032.8 L1119.9 1029.8M1121.0 603.0 L1123.0 614.0 L1123.0 626.0 L1125.0 640.0 L1122.0 654.0M1135.0 521.0 L1134.0 524.0 L1134.6 532.0 L1132.0 541.0 L1126.0 550.0 L1121.0 558.0 L1117.0 561.0 L1115.6 569.0 L1117.0 576.0 L1119.7 589.0 L1121.0 603.0M1141.3 518.8 L1135.0 521.0M1149.0 1002.0 L1152.2 1012.3 L1155.5 1026.4 L1158.0 1041.3 L1158.7 1052.5"/>
<polygon fill="#fff" stroke="#fff" stroke-width="0.6" stroke-linejoin="round" points="811.4,618.6 826.6,619.3 840.3,620.7 858.3,622.8 860.0,626.0 859.7,629.0 854.1,633.1 844.5,635.2 837.6,633.1 830.7,630.3 819.7,624.8"/>
<polygon fill="#fff" stroke="#fff" stroke-width="0.6" stroke-linejoin="round" points="706.4,682.3 706.4,689.5 706.8,697.9 708.1,707.1 710.2,713.9 714.0,718.9 714.4,727.3 714.4,735.7 714.8,744.2 716.1,752.6 717.8,759.3 719.0,763.1 720.7,763.9 721.6,762.3 720.7,756.8 719.5,750.9 719.0,744.2 719.0,735.7 719.5,727.3 719.5,718.9 717.8,712.2 714.4,705.4 712.3,696.2 711.5,687.8 711.0,682.3"/>
<polygon fill="#fff" stroke="#fff" stroke-width="0.6" stroke-linejoin="round" points="735.9,670.9 734.6,676.8 735.9,685.2 733.8,692.0 732.1,697.0 732.5,703.8 734.6,709.7 739.7,716.4 742.2,723.1 745.5,729.0 750.6,734.9 756.5,739.1 759.9,744.2 762.0,750.1 764.1,751.7 765.3,750.1 764.1,744.2 761.5,738.3 757.3,734.1 752.3,729.0 748.1,724.0 745.5,717.2 743.0,712.2 740.1,707.1 739.7,700.4 740.5,695.3 740.5,687.8 740.9,684.4 739.7,679.4 737.6,674.3 737.1,670.1"/>
<!-- logo -->
<g fill="none" stroke="#2b3238" stroke-width="1.7" stroke-linecap="round" stroke-linejoin="round">
 <ellipse cx="85.2" cy="1212" rx="12.2" ry="6.6" />
 <path d="M73,1212 V1232 C73,1236.5 79,1239.3 86,1239.3 C88.5,1239.3 91,1238.9 93,1238.2"/>
 <path d="M73,1218.7 C73,1223 79,1225.6 86,1225.6 C88,1225.6 89.5,1225.4 91,1225.1"/>
 <path d="M73,1225.4 C73,1229.7 79,1232.3 86,1232.3 C88.6,1232.3 90.6,1232 92.5,1231.5"/>
</g>
<path d="M89.5,1209.5 L115.3,1208.7 L112.6,1216.8 L106.2,1217.1 L101.5,1225.6 L106.6,1225.5 L96.2,1243.6 L98.6,1231.3 L92.8,1231.6 L97.6,1217.6 L87.2,1218.1 Z" fill="#fffdf4" stroke="#f1c550" stroke-width="1.6" stroke-linejoin="round"/>

<defs>
<clipPath id="cp1"><circle cx="640" cy="638" r="560"/></clipPath>
<clipPath id="cp2"><circle cx="643" cy="645" r="557"/></clipPath>
<radialGradient id="sk1" cx="0.5" cy="0.38" r="0.62"><stop offset="0" stop-color="#a06a46"/><stop offset="0.55" stop-color="#86512f"/><stop offset="1" stop-color="#5e3620"/></radialGradient>
<radialGradient id="sk2" cx="0.5" cy="0.42" r="0.62"><stop offset="0" stop-color="#e6b590"/><stop offset="0.6" stop-color="#d39a76"/><stop offset="1" stop-color="#a9704f"/></radialGradient>
<linearGradient id="bg2" x1="0" y1="0" x2="1" y2="0.3"><stop offset="0" stop-color="#c02a2f"/><stop offset="0.5" stop-color="#cf2f33"/><stop offset="1" stop-color="#c4282c"/></linearGradient>
<linearGradient id="hairL" x1="0" y1="0" x2="0" y2="1"><stop offset="0" stop-color="#2a1f1b"/><stop offset="0.55" stop-color="#3a2a22"/><stop offset="1" stop-color="#9a6e4e"/></linearGradient>
<filter id="bl" x="-5%" y="-5%" width="110%" height="110%"><feGaussianBlur stdDeviation="7"/></filter>
</defs>
<g transform="translate(110,215) scale(0.122418)">
 <g clip-path="url(#cp1)"><g filter="url(#bl)">
  <rect x="60" y="60" width="1180" height="1180" fill="#1a2050"/>
  <!-- left flag -->
  <polygon points="60,60 520,60 420,1240 60,1240" fill="#1f2f78"/>
  <polygon points="60,480 140,520 310,880 290,1000 60,640" fill="#e6b41e"/>
  <polygon points="60,640 290,1000 330,1240 60,1240" fill="#141320"/>
  <!-- right flag -->
  <polygon points="900,100 1240,100 1240,950 1080,950 960,420" fill="#27357f"/>
  <polygon points="985,380 1050,300 1150,400 1210,560 1215,800 1110,890 1060,880 1010,600" fill="#e9b923"/>
  <polygon points="975,250 1035,235 1075,330 1040,350" fill="#d8a722"/>
  <circle cx="1012" cy="452" r="48" fill="#f6cb2a"/>
  <path d="M1075,330 L1120,700" stroke="#2b3f96" stroke-width="16" fill="none"/>
  <path d="M1110,330 L1200,640" stroke="#2b3f96" stroke-width="12" fill="none"/>
  <polygon points="1120,650 1205,650 1195,705 1125,705" fill="#c8352c"/>
  <polygon points="880,120 960,160 940,200 870,170" fill="#b03038"/>
  <!-- hair -->
  <path d="M300,1240 C240,900 270,430 400,240 C520,80 780,60 900,200 C1010,330 1010,640 1060,900 L1100,960 L1100,1240 Z" fill="url(#hairL)"/>
  <path d="M640,90 C780,80 900,180 950,330 C990,460 1000,640 1060,900 L900,900 L860,420 Z" fill="#2a221f"/>
  <path d="M700,100 C800,130 860,200 900,300 L870,320 C830,230 780,170 690,140 Z" fill="#57504c" opacity="0.7"/>
  <!-- jacket -->
  <polygon points="870,900 1110,870 1240,960 1240,1240 880,1240 930,1090" fill="#17161b"/>
  <polygon points="420,1150 560,1130 540,1240 400,1240" fill="#17161b"/>
  <!-- neck -->
  <polygon points="470,900 830,880 930,1090 900,1240 520,1240 440,1120" fill="#6d3f27"/>
  <!-- face -->
  <ellipse cx="628" cy="610" rx="262" ry="372" fill="url(#sk1)"/>
  <ellipse cx="640" cy="400" rx="170" ry="80" fill="#a9744e" opacity="0.6"/>
  <ellipse cx="470" cy="640" rx="70" ry="60" fill="#a06846" opacity="0.3"/>
  <ellipse cx="800" cy="630" rx="70" ry="60" fill="#a06846" opacity="0.3"/>
  <!-- brows & eyes -->
  <path d="M420,450 Q500,405 580,440 L575,460 Q500,432 425,470 Z" fill="#2a1a14"/>
  <path d="M690,440 Q770,400 850,440 L848,460 Q770,425 695,460 Z" fill="#2a1a14"/>
  <ellipse cx="500" cy="505" rx="52" ry="17" fill="#20130f"/>
  <ellipse cx="765" cy="497" rx="52" ry="17" fill="#20130f"/>
  <!-- nose -->
  <path d="M560,640 Q630,610 705,640 Q690,690 630,680 Q575,690 560,640 Z" fill="#6a3a22" opacity="0.8"/>
  <!-- mouth -->
  <path d="M470,740 Q620,700 770,730 Q720,870 610,870 Q510,860 470,740 Z" fill="#7a3238"/>
  <path d="M510,752 Q620,732 738,746 Q700,808 615,810 Q545,806 510,752 Z" fill="#eadfd8"/>
  <circle cx="889" cy="676" r="9" fill="#e8dcd0"/>
 </g></g>
</g>
<g transform="translate(110,920) scale(0.122418)">
 <g clip-path="url(#cp2)"><g filter="url(#bl)">
  <rect x="60" y="60" width="1180" height="1180" fill="url(#bg2)"/>
  <path d="M900,200 L1040,700 L960,1100" stroke="#a81f25" stroke-width="26" fill="none" opacity="0.7"/>
  <path d="M1000,420 L1180,620 L1100,900" stroke="#d8393c" stroke-width="30" fill="none" opacity="0.6"/>
  <path d="M230,300 L330,220 L300,520" stroke="#b32228" stroke-width="24" fill="none" opacity="0.7"/>
  <!-- white text & logo on left -->
  <polygon points="268,830 300,760 330,720 380,740 395,830" fill="#c9c2c6"/>
  <g transform="translate(128,800) rotate(68)"><text x="0" y="0" font-family="Liberation Serif, serif" font-weight="700" font-size="96" fill="#fbf3f3">Young</text></g>
  <g transform="translate(150,640) rotate(-62)"><text x="0" y="0" font-family="Liberation Serif, serif" font-style="italic" font-size="80" fill="#e58a8d">Ne</text></g>
  <polygon points="150,700 160,722 184,724 166,740 172,764 150,750 128,764 134,740 116,724 140,722" fill="#f4dede"/>
  <!-- suit & shirt -->
  <polygon points="300,1060 400,1000 470,1240 260,1240" fill="#24262d"/>
  <polygon points="870,1040 960,1090 1000,1240 860,1240" fill="#24262d"/>
  <polygon points="395,1010 520,1100 760,1110 880,1030 900,1140 700,1260 520,1240 370,1130" fill="#f1f1f3"/>
  <!-- ears -->
  <ellipse cx="298" cy="640" rx="42" ry="95" fill="#c88f6c"/>
  <ellipse cx="968" cy="650" rx="40" ry="95" fill="#c48a68"/>
  <!-- hair -->
  <path d="M300,600 C250,380 330,190 520,130 C700,80 880,120 940,300 C980,420 975,520 960,600 L900,600 L890,330 L400,330 L360,600 Z" fill="#1f1b1a"/>
  <!-- face -->
  <path d="M330,600 C330,400 380,300 500,250 L820,250 C900,300 950,420 945,640 C940,860 860,1050 760,1110 C700,1150 580,1150 520,1100 C410,1020 335,820 330,600 Z" fill="url(#sk2)"/>
  <path d="M350,360 C400,250 520,200 640,200 C780,200 880,240 925,360 L915,470 C890,330 800,250 640,246 C480,250 400,320 372,470 Z" fill="#1f1b1a"/>
  <!-- brows & eyes -->
  <path d="M420,475 Q510,425 610,470 L606,498 Q510,462 428,505 Z" fill="#2b1d17"/>
  <path d="M700,470 Q800,420 890,470 L884,498 Q800,458 706,498 Z" fill="#2b1d17"/>
  <ellipse cx="520" cy="530" rx="52" ry="22" fill="#2a1b16"/>
  <ellipse cx="795" cy="527" rx="52" ry="22" fill="#2a1b16"/>
  <!-- nose -->
  <path d="M600,650 Q665,710 745,655 Q735,700 670,705 Q615,700 600,650 Z" fill="#9b6044" opacity="0.85"/>
  <!-- mouth -->
  <path d="M540,785 Q670,760 800,780 Q760,860 665,862 Q585,858 540,785 Z" fill="#9a4d44"/>
  <path d="M575,792 Q670,775 770,790 Q740,828 668,830 Q605,828 575,792 Z" fill="#f1e6de"/>
  <!-- shadow under chin -->
  <path d="M470,1040 Q640,1160 820,1050 Q760,1120 640,1130 Q530,1120 470,1040 Z" fill="#8f5b40" opacity="0.7"/>
 </g></g>
</g>

</svg>
<div class="h" style="left:299.8px;top:223px;letter-spacing:0.45px;transform-origin:0 0;transform:scaleX(1.06)">Letitia James</div>
<div class="h" style="left:299.8px;top:928.5px;letter-spacing:1.0px;transform-origin:0 0;transform:scaleX(1.06)">Michael Henry</div>
<div class="dot" style="left:300.7px;top:288.0px;background:linear-gradient(135deg,rgba(255,255,255,0.10) 0%,rgba(255,255,255,0) 55%,rgba(0,0,0,0.08) 100%),#f5b5b9"></div><div class="lg" style="left:335.5px;top:286.0px">40–50%</div><div class="dot" style="left:474.0px;top:288.0px;background:linear-gradient(135deg,rgba(255,255,255,0.10) 0%,rgba(255,255,255,0) 55%,rgba(0,0,0,0.08) 100%),#e18787"></div><div class="lg" style="left:510.5px;top:286.0px">50–60%</div><div class="dot" style="left:652.0px;top:288.0px;background:linear-gradient(135deg,rgba(255,255,255,0.10) 0%,rgba(255,255,255,0) 55%,rgba(0,0,0,0.08) 100%),#d96868"></div><div class="lg" style="left:684px;top:286.0px">60–70%</div><div class="dot" style="left:300.7px;top:339.0px;background:linear-gradient(135deg,rgba(255,255,255,0.10) 0%,rgba(255,255,255,0) 55%,rgba(0,0,0,0.08) 100%),#d23d3c"></div><div class="lg" style="left:335.5px;top:337.0px">70–80%</div><div class="dot" style="left:474.0px;top:339.0px;background:linear-gradient(135deg,rgba(255,255,255,0.10) 0%,rgba(255,255,255,0) 55%,rgba(0,0,0,0.08) 100%),#c3302a"></div><div class="lg" style="left:510.5px;top:337.0px">80–90%</div><div class="dot" style="left:652.0px;top:339.0px;background:linear-gradient(135deg,rgba(255,255,255,0.10) 0%,rgba(255,255,255,0) 55%,rgba(0,0,0,0.08) 100%),#a41d14"></div><div class="lg" style="left:684px;top:337.0px">>90%</div><div class="dot" style="left:300.7px;top:994.0px;background:linear-gradient(135deg,rgba(255,255,255,0.10) 0%,rgba(255,255,255,0) 55%,rgba(0,0,0,0.08) 100%),#a9b0f7"></div><div class="lg" style="left:335.5px;top:992.0px">40–50%</div><div class="dot" style="left:474.0px;top:994.0px;background:linear-gradient(135deg,rgba(255,255,255,0.10) 0%,rgba(255,255,255,0) 55%,rgba(0,0,0,0.08) 100%),#8398e0"></div><div class="lg" style="left:510.5px;top:992.0px">50–60%</div><div class="dot" style="left:652.0px;top:994.0px;background:linear-gradient(135deg,rgba(255,255,255,0.10) 0%,rgba(255,255,255,0) 55%,rgba(0,0,0,0.08) 100%),#6e7bdc"></div><div class="lg" style="left:684px;top:992.0px">60–70%</div><div class="dot" style="left:300.7px;top:1045.0px;background:linear-gradient(135deg,rgba(255,255,255,0.10) 0%,rgba(255,255,255,0) 55%,rgba(0,0,0,0.08) 100%),#574fd6"></div><div class="lg" style="left:335.5px;top:1043.0px">70–80%</div><div class="dot" style="left:474.0px;top:1045.0px;background:linear-gradient(135deg,rgba(255,255,255,0.10) 0%,rgba(255,255,255,0) 55%,rgba(0,0,0,0.08) 100%),#3c33dc"></div><div class="lg" style="left:510.5px;top:1043.0px">80–90%</div><div class="dot" style="left:652.0px;top:1045.0px;background:linear-gradient(135deg,rgba(255,255,255,0.10) 0%,rgba(255,255,255,0) 55%,rgba(0,0,0,0.08) 100%),#14088c"></div><div class="lg" style="left:684px;top:1043.0px">>90%</div>
<div class="sep"></div>
<div class="foot">cointelegraph.com</div>
<div class="src">source: <b>Wikipedia</b></div>
</body></html>
